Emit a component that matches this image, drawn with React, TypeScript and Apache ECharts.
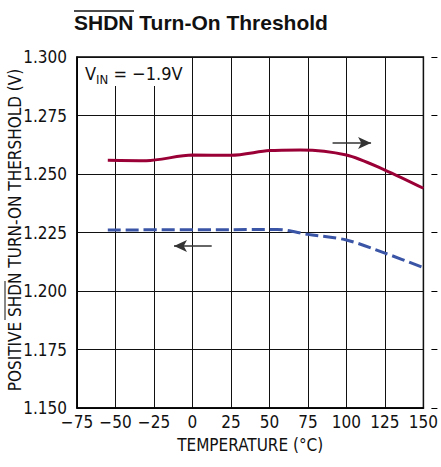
import React, { useEffect, useRef } from "react";
import * as echarts from "echarts";

const FONT = "'DejaVu Sans Condensed', 'Liberation Sans', sans-serif";
const TITLE_FONT = "'Liberation Sans', Arial, sans-serif";

const xTicks = [-75, -50, -25, 0, 25, 50, 75, 100, 125, 150];
const yTicks = [1.15, 1.175, 1.2, 1.225, 1.25, 1.275, 1.3];

const redTemps = [-55, -30, 0, 25, 50, 70, 100, 125, 150];
const redValues = [1.2559, 1.2557, 1.2581, 1.258, 1.26, 1.2603, 1.2581, 1.2517, 1.2439];

const blueTemps = [-55, 25, 55, 75, 100, 125, 150];
const blueValues = [1.2261, 1.2262, 1.2263, 1.2242, 1.2218, 1.2162, 1.21];

const rightArrow = [[91, 1.2632], [116, 1.2632]];
const leftArrow = [[12.5, 1.2192], [-12, 1.2192]];

export default function App() {
  const ref = useRef<HTMLDivElement>(null);
  useEffect(() => {
    document.body.style.margin = "0";
    const chart = echarts.init(ref.current!, null, { renderer: "svg" });
    const arrowLine = (pts: number[][]) => ({
      silent: true,
      symbol: ["none", "arrow"],
      symbolSize: [9, 13],
      lineStyle: { color: "#333", width: 1.5, type: "solid" },
      label: { show: false },
      emphasis: { disabled: true },
      data: [[{ coord: pts[0] }, { coord: pts[1] }]],
    });
    chart.setOption({
      animation: false,
      backgroundColor: "#fff",
      textStyle: { fontFamily: FONT },
      grid: { left: 77, right: 12, top: 57, bottom: 59, show: true, borderColor: "#000", borderWidth: 1.5, backgroundColor: "transparent" },
      xAxis: {
        type: "value",
        min: xTicks[0],
        max: xTicks[xTicks.length - 1],
        interval: 25,
        axisLine: { show: true, onZero: false, lineStyle: { color: "#000", width: 1.5 } },
        axisTick: { show: false },
        splitLine: { show: true, lineStyle: { color: "#111", width: 1 } },
        axisLabel: {
          margin: 5,
          fontSize: 17,
          color: "#111",
          fontFamily: FONT,
          formatter: (v: number) => String(v).replace("-", "\u2212"),
        },
        name: "TEMPERATURE (°C)",
        nameLocation: "middle",
        nameGap: 28,
        nameTextStyle: { fontSize: 17, color: "#111", fontFamily: FONT },
      },
      yAxis: [
        {
          type: "value",
          min: yTicks[0],
          max: yTicks[yTicks.length - 1],
          interval: 0.025,
          axisLine: { show: true, onZero: false, lineStyle: { color: "#000", width: 1.5 } },
          axisTick: { show: false },
          splitLine: { show: true, lineStyle: { color: "#111", width: 1 } },
          axisLabel: {
            margin: 10,
            fontSize: 17,
            color: "#111",
            fontFamily: FONT,
            formatter: (v: number) => v.toFixed(3),
          },
        },
        {
          type: "value",
          position: "right",
          offset: 8,
          min: yTicks[0],
          max: yTicks[yTicks.length - 1],
          interval: 0.025,
          axisLine: { show: false, onZero: false },
          axisTick: { show: true, length: 6, lineStyle: { color: "#000", width: 1 } },
          splitLine: { show: false },
          axisLabel: { show: false },
        },
      ],
      series: [
        {
          type: "line",
          yAxisIndex: 1,
          data: redTemps.map((t, i) => [t, redValues[i]]),
          smooth: 0.3,
          showSymbol: false,
          lineStyle: { color: "#9a0036", width: 3 },
          markLine: arrowLine(rightArrow),
        },
        {
          type: "line",
          yAxisIndex: 0,
          data: blueTemps.map((t, i) => [t, blueValues[i]]),
          smooth: 0.3,
          showSymbol: false,
          lineStyle: { color: "#3b55a6", width: 3, type: [13, 5] },
          markLine: arrowLine(leftArrow),
        },
      ],
      graphic: [
        {
          type: "text",
          x: 74,
          y: 33,
          style: { text: "SHDN Turn-On Threshold", font: `bold 21px ${TITLE_FONT}`, fill: "#111", verticalAlign: "bottom" },
        },
        { type: "line", shape: { x1: 74, y1: 11, x2: 134, y2: 11 }, style: { stroke: "#111", lineWidth: 1.5 } },
        {
          type: "text",
          x: 15,
          y: 230,
          rotation: Math.PI / 2,
          style: {
            text: "POSITIVE SHDN TURN-ON THERSHOLD (V)",
            font: `17px ${FONT}`,
            fill: "#111",
            align: "center",
            verticalAlign: "middle",
          },
        },
        { type: "line", shape: { x1: 5, y1: 281, x2: 5, y2: 320 }, style: { stroke: "#111", lineWidth: 1 } },
        { type: "rect", shape: { x: 78, y: 58, width: 100, height: 28 }, style: { fill: "#fff" }, z: 10 },
        {
          type: "text",
          x: 85,
          y: 82,
          z: 11,
          style: {
            text: "{v|V}{s|IN}{v| = \u22121.9V}",
            verticalAlign: "bottom",
            fill: "#111",
            rich: {
              v: { fontSize: 18, fontFamily: FONT, fill: "#111", verticalAlign: "bottom" },
              s: { fontSize: 13, fontFamily: FONT, fill: "#111", verticalAlign: "bottom", padding: [0, 0, -4, 0] },
            },
          },
        },
      ],
    });
    return () => chart.dispose();
  }, []);
  return <div ref={ref} style={{ width: 441, height: 467 }} />;
}
